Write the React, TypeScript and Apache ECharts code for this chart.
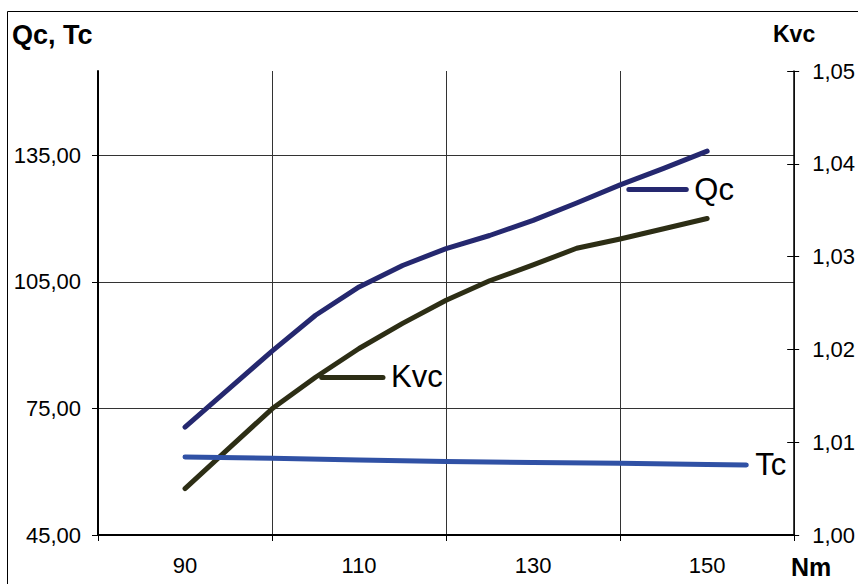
import React, { useEffect, useRef } from "react";
import * as echarts from "echarts";

const nmQK = [90, 95, 100, 105, 110, 115, 120, 125, 130, 135, 140, 145, 150];
const qcValues = [70.6, 79.6, 88.6, 97.1, 103.8, 108.9, 112.9, 116.0, 119.6, 123.7, 128.0, 131.9, 136.0];
const kvcValues = [1.005, 1.0093, 1.0136, 1.017, 1.0201, 1.0228, 1.0253, 1.0274, 1.0291, 1.0309, 1.0319, 1.033, 1.0341];
const nmTc = [90, 100, 110, 120, 130, 140, 150, 154.5];
const tcValues = [63.5, 63.2, 62.8, 62.4, 62.2, 62.0, 61.7, 61.6];

const xTickLabels = [90, 110, 130, 150];
const leftTicks = [45, 75, 105, 135];

const qcLeader = [[141.0, 127.0], [147.6, 127.0]];
const kvcLeader = [[105.7, 1.01704], [112.75, 1.01704]];

const FONT = "'Liberation Sans', Arial, sans-serif";
const QC_COLOR = "#25286f";
const KVC_COLOR = "#2d2e15";
const TC_COLOR = "#3051a5";
const GRID_COLOR = "#333";

const comma = (v: number) => v.toFixed(2).replace(".", ",");

export default function App() {
  const ref = useRef<HTMLDivElement>(null);
  useEffect(() => {
    if (!ref.current) return;
    const chart = echarts.init(ref.current, null, { renderer: "svg" });
    const lineLabel = { show: true, color: "#000", fontSize: 31, fontFamily: FONT };
    chart.setOption({
      animation: false,
      textStyle: { fontFamily: FONT },
      grid: { left: 98, right: 63, top: 71, bottom: 49, containLabel: false },
      xAxis: [
        {
          type: "value", min: 80, max: 160, interval: 20, position: "bottom",
          axisLine: { show: true, lineStyle: { color: "#000", width: 2 } },
          axisTick: { show: true, length: 6, lineStyle: { color: "#000", width: 1 } },
          axisLabel: { show: false },
          splitLine: { show: true, lineStyle: { color: GRID_COLOR, width: 1 } },
        },
        {
          type: "value", min: 80, max: 160, interval: 10, position: "bottom",
          axisLine: { show: false }, axisTick: { show: false }, splitLine: { show: false },
          axisLabel: {
            show: true, color: "#000", fontSize: 22, fontFamily: FONT, margin: 19,
            formatter: (v: number) => (xTickLabels.includes(v) ? String(v) : ""),
          },
        },
      ],
      yAxis: [
        {
          type: "value", min: 45, max: 155, interval: 30, position: "left",
          axisLine: { show: true, lineStyle: { color: "#000", width: 2 } },
          axisTick: { show: true, length: 6, lineStyle: { color: "#000" }, customValues: leftTicks },
          axisLabel: {
            show: true, color: "#000", fontSize: 22, fontFamily: FONT, margin: 17,
            showMaxLabel: false,
            formatter: (v: number) => (leftTicks.includes(Math.round(v)) ? comma(v) : ""),
          },
          splitLine: { show: true, lineStyle: { color: GRID_COLOR, width: 1 } },
        },
        {
          type: "value", min: 1.0, max: 1.05, interval: 0.01, position: "right",
          axisLine: { show: true, lineStyle: { color: "#000", width: 1.5 } },
          axisTick: { show: true, length: 5, lineStyle: { color: "#000" } },
          axisLabel: {
            show: true, color: "#000", fontSize: 22, fontFamily: FONT, margin: 18,
            formatter: (v: number) => comma(v),
          },
          splitLine: { show: false },
        },
        {
          type: "value", min: 1.0, max: 1.05, interval: 0.01, position: "right",
          axisLine: { show: false },
          axisTick: { show: true, inside: true, length: 7, lineStyle: { color: "#000" } },
          axisLabel: { show: false },
          splitLine: { show: false },
        },
      ],
      graphic: [
        { type: "rect", shape: { x: 7.5, y: 11.5, width: 900, height: 700 }, style: { fill: "none", stroke: "#000", lineWidth: 1 }, silent: true },
        { type: "text", x: 12, y: 35, style: { text: "Qc, Tc", fill: "#000", fontSize: 27, fontWeight: "bold", fontFamily: FONT, align: "left", verticalAlign: "middle" } },
        { type: "text", x: 773, y: 34, style: { text: "Kvc", fill: "#000", fontSize: 23, fontWeight: "bold", fontFamily: FONT, align: "left", verticalAlign: "middle" } },
        { type: "text", x: 791, y: 567, style: { text: "Nm", fill: "#000", fontSize: 25, fontWeight: "bold", fontFamily: FONT, align: "left", verticalAlign: "middle" } },
      ],
      series: [
        {
          name: "Qc", type: "line", xAxisIndex: 0, yAxisIndex: 0,
          data: nmQK.map((x, i) => [x, qcValues[i]]),
          showSymbol: false, symbol: "none",
          lineStyle: { color: QC_COLOR, width: 5, cap: "round", join: "round" },
          markLine: {
            silent: true, symbol: "none",
            lineStyle: { color: QC_COLOR, width: 5, type: "solid", cap: "round" },
            label: { ...lineLabel, position: "end", distance: 8, formatter: "Qc" },
            data: [[{ coord: qcLeader[0] }, { coord: qcLeader[1] }]],
          },
        },
        {
          name: "Kvc", type: "line", xAxisIndex: 0, yAxisIndex: 1,
          data: nmQK.map((x, i) => [x, kvcValues[i]]),
          showSymbol: false, symbol: "none",
          lineStyle: { color: KVC_COLOR, width: 5, cap: "round", join: "round" },
          markLine: {
            silent: true, symbol: "none",
            lineStyle: { color: KVC_COLOR, width: 5, type: "solid", cap: "round" },
            label: { ...lineLabel, position: "end", distance: 8, formatter: "Kvc" },
            data: [[{ coord: kvcLeader[0] }, { coord: kvcLeader[1] }]],
          },
        },
        {
          name: "Tc", type: "line", xAxisIndex: 0, yAxisIndex: 0,
          data: nmTc.map((x, i) => [x, tcValues[i]]),
          showSymbol: false, symbol: "none",
          lineStyle: { color: TC_COLOR, width: 5, cap: "round", join: "round" },
          endLabel: { ...lineLabel, distance: 9, formatter: "Tc" },
        },
      ],
    });
    return () => chart.dispose();
  }, []);
  return (
    <div
      ref={ref}
      style={{ position: "absolute", left: 0, top: 0, width: 858, height: 584, background: "#fff" }}
    />
  );
}
